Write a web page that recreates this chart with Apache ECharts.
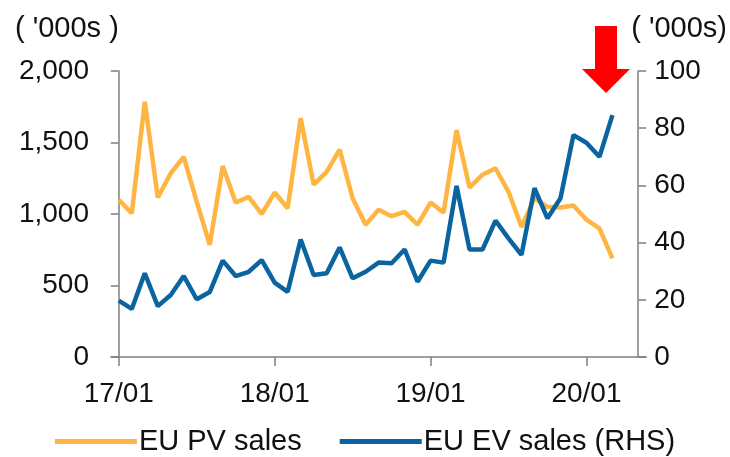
<!DOCTYPE html>
<html>
<head>
<meta charset="utf-8">
<script src="https://cdn.jsdelivr.net/npm/echarts@6/dist/echarts.min.js"></script>
<style>
  html, body { margin: 0; padding: 0; background: #fff; }
  #chart { width: 730px; height: 457px; }
</style>
</head>
<body>
<div id="chart"></div>
<script>
// months, 17/01 .. 20/03
var months = ['17/01','17/02','17/03','17/04','17/05','17/06','17/07','17/08','17/09','17/10','17/11','17/12',
              '18/01','18/02','18/03','18/04','18/05','18/06','18/07','18/08','18/09','18/10','18/11','18/12',
              '19/01','19/02','19/03','19/04','19/05','19/06','19/07','19/08','19/09','19/10','19/11','19/12',
              '20/01','20/02','20/03'];

// EU PV sales ('000s, left axis)
var pvSales = [1100,1005,1785,1115,1285,1400,1085,785,1335,1080,1120,1000,
               1150,1040,1670,1205,1295,1450,1110,925,1030,985,1015,925,
               1080,1010,1585,1185,1275,1320,1155,910,1110,1050,1045,1060,
               960,900,690];

// EU EV sales ('000s, right axis)
var evSales = [19.7,16.8,29.3,17.8,21.7,28.3,20.2,22.7,33.7,28.3,29.8,33.9,
               26.0,22.8,41.1,28.7,29.3,38.3,27.5,29.8,33.0,32.8,37.6,26.3,
               33.7,33.0,59.8,37.6,37.6,47.7,41.5,35.7,59.0,48.5,55.5,77.6,
               74.9,70.0,84.6];

// x positions of the year ticks / labels
var yearTicks = [0, 12, 24, 36];

var font = "'Liberation Sans', Arial, sans-serif";
var axisGray = '#808080';

function toPairs(arr) {
    return arr.map(function (v, i) { return [i, v]; });
}

var chart = echarts.init(document.getElementById('chart'));

var option = {
    animation: false,
    grid: { left: 111, right: 81, top: 71, bottom: 100 },
    legend: {
        top: 422,
        left: 'center',
        icon: 'rect',
        itemWidth: 82,
        itemHeight: 5,
        itemGap: 38,
        textStyle: { fontSize: 29, color: '#111', fontFamily: font, padding: [0, 0, 0, -3] },
        data: ['EU PV sales', 'EU EV sales (RHS)']
    },
    xAxis: {
        type: 'value',
        min: -0.6,
        max: 40.6,
        splitLine: { show: false },
        axisLine: { lineStyle: { color: axisGray, width: 1.5 } },
        axisTick: {
            customValues: yearTicks,
            length: 9,
            lineStyle: { color: axisGray, width: 1.5 }
        },
        axisLabel: {
            customValues: yearTicks,
            margin: 23,
            fontSize: 28,
            color: '#111',
            fontFamily: font,
            formatter: function (v) { return months[Math.round(v)]; }
        }
    },
    yAxis: [
        {
            type: 'value',
            position: 'left',
            min: 0,
            max: 2000,
            interval: 500,
            name: "( '000s )",
            nameLocation: 'end',
            nameGap: 28,
            nameTextStyle: { fontSize: 29, color: '#111', fontFamily: font, align: 'right' },
            splitLine: { show: false },
            axisLine: { show: true, onZero: true, lineStyle: { color: axisGray, width: 1.5 } },
            axisTick: { show: true, length: 8, lineStyle: { color: axisGray, width: 1.5 } },
            axisLabel: {
                margin: 22,
                fontSize: 28,
                color: '#111',
                fontFamily: font,
                formatter: function (v) { return v.toLocaleString('en-US'); }
            }
        },
        {
            type: 'value',
            position: 'right',
            offset: -8,
            min: 0,
            max: 100,
            interval: 20,
            name: "( '000s)",
            nameLocation: 'end',
            nameGap: 28,
            nameTextStyle: { fontSize: 29, color: '#111', fontFamily: font, align: 'left', padding: [0, 0, 0, -7] },
            splitLine: { show: false },
            axisLine: { show: true, onZero: false, lineStyle: { color: axisGray, width: 1.5 } },
            axisTick: { show: true, length: 8, lineStyle: { color: axisGray, width: 1.5 } },
            axisLabel: { margin: 16, fontSize: 28, color: '#111', fontFamily: font }
        }
    ],
    series: [
        {
            name: 'EU PV sales',
            type: 'line',
            yAxisIndex: 0,
            symbol: 'none',
            color: '#FFB541',
            lineStyle: { width: 4.5, color: '#FFB541' },
            data: toPairs(pvSales)
        },
        {
            name: 'EU EV sales (RHS)',
            type: 'line',
            yAxisIndex: 1,
            symbol: 'none',
            color: '#0A64A0',
            lineStyle: { width: 4.5, color: '#0A64A0' },
            data: toPairs(evSales)
        }
    ],
    graphic: [
        {   // red arrow marker
            type: 'polygon',
            z: 100,
            shape: {
                points: [[595, 26], [617, 26], [617, 69], [630, 69], [606, 93], [582, 69], [595, 69]]
            },
            style: { fill: '#FF0000' }
        }
    ]
};

chart.setOption(option);
</script>
</body>
</html>
